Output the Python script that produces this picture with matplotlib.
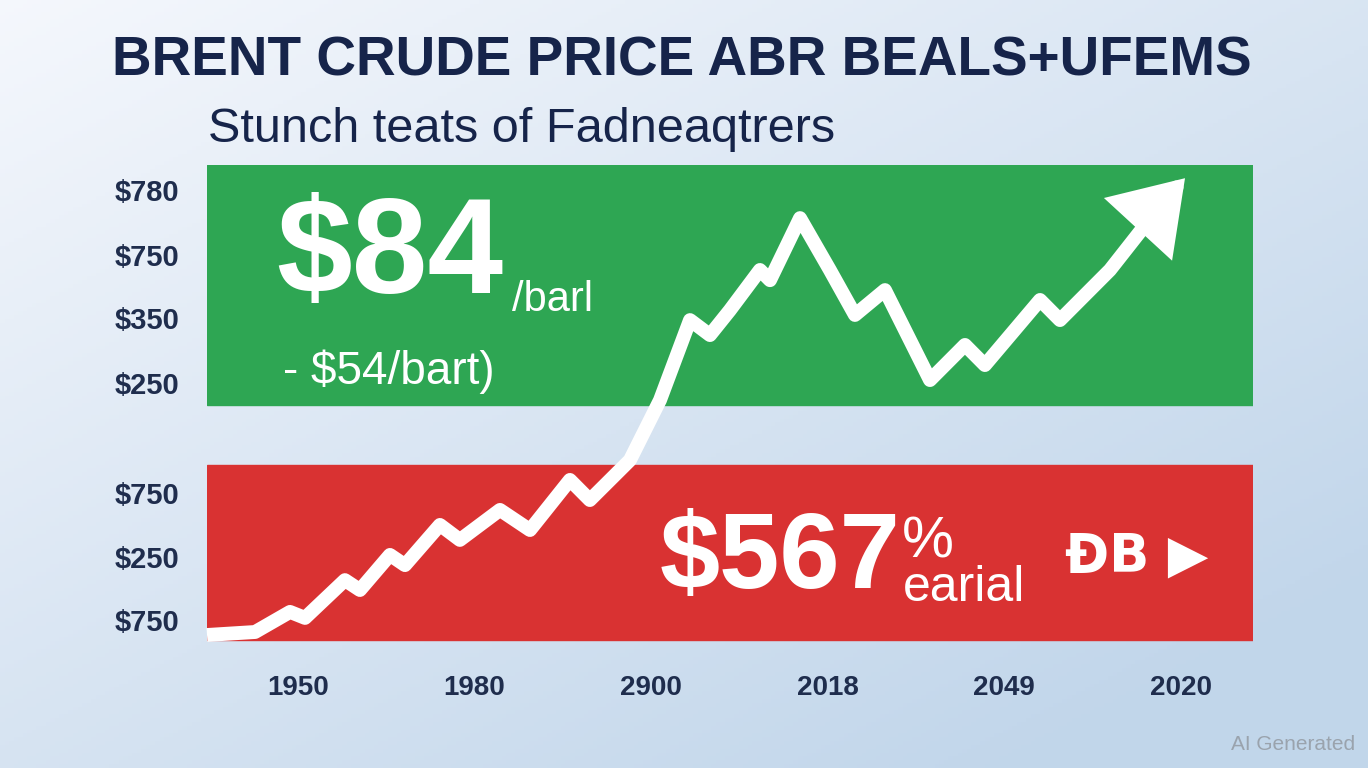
import numpy as np
import matplotlib
matplotlib.use("Agg")
import matplotlib.pyplot as plt
from matplotlib.patches import Rectangle

# ---- data ----
title = "BRENT CRUDE PRICE ABR BEALS+UFEMS"
subtitle = "Stunch teats of Fadneaqtrers"
x_ticklabels = ["1950", "1980", "2900", "2018", "2049", "2020"]
y_tickvals = [153.3, 131.7, 110.7, 89.0, 52.3, 31.0, 10.0]
y_ticklabels = ["$780", "$750", "$350", "$250", "$750", "$250", "$750"]
line_x = [-0.515, -0.243, -0.045, 0.04, 0.266, 0.351, 0.521, 0.606, 0.804, 0.917,
          1.144, 1.314, 1.54, 1.653, 1.88, 2.05, 2.22, 2.333, 2.446, 2.616, 2.673,
          2.843, 3.012, 3.154, 3.324, 3.579, 3.777, 3.89, 4.202, 4.315, 4.598, 4.909]
line_y = [5, 6, 12.7, 10.7, 23.3, 20, 31.7, 28.3, 41.7, 36.7, 46.7, 40, 56.7, 50,
          63.3, 83.3, 110, 105, 113.3, 126.7, 123.3, 144, 126.7, 111.7, 120, 90,
          101.7, 95, 116.7, 110, 126.7, 150]
arrow_tip = (5.023, 157.3)
green_band = (81.7, 161.7)
red_band = (3.3, 61.7)

W, H = 1368, 768
fig = plt.figure(figsize=(W/100, H/100), dpi=100)

# background gradient
bg = fig.add_axes([0, 0, 1, 1])
xx, yy = np.meshgrid(np.linspace(0, 1, 300), np.linspace(0, 1, 200))
t = np.clip(0.55*xx + 0.6*yy, 0, 1)
c0 = np.array([0.96, 0.97, 0.99]); c1 = np.array([0.76, 0.84, 0.92])
img = c0[None, None, :]*(1-t[..., None]) + c1[None, None, :]*t[..., None]
bg.imshow(img, aspect="auto", extent=[0, 1, 0, 1])
bg.axis("off")

font = "Liberation Sans"
ax = fig.add_axes([207/W, (768-650)/H, (1253-207)/W, (650-165)/H])
ax.set_xlim(-0.515, 5.408)
ax.set_ylim(0, 161.7)
ax.patch.set_alpha(0)
for s in ax.spines.values():
    s.set_visible(False)

ax.add_patch(Rectangle((-0.515, green_band[0]), 5.923, green_band[1]-green_band[0],
                       color="#2ea653", zorder=1))
ax.add_patch(Rectangle((-0.515, red_band[0]), 5.923, red_band[1]-red_band[0],
                       color="#d93232", zorder=1))

ax.plot(line_x, line_y, color="white", lw=10, solid_joinstyle="round",
        solid_capstyle="butt", zorder=3, clip_on=False)
ax.annotate("", xy=arrow_tip, xytext=(line_x[-1], line_y[-1]),
            arrowprops=dict(arrowstyle="-|>,head_length=0.9,head_width=0.6",
                            color="white", lw=10, shrinkA=0, shrinkB=0,
                            mutation_scale=40, joinstyle="miter"),
            zorder=4, annotation_clip=False)

ax.set_xticks(range(6))
ax.set_xticklabels(x_ticklabels, fontsize=20, fontweight="bold", color="#1f2d4d",
                   fontfamily=font)
ax.set_yticks(y_tickvals)
ax.set_yticklabels(y_ticklabels, fontsize=21, fontweight="bold", color="#1f2d4d",
                   fontfamily=font)
ax.tick_params(length=0)
ax.tick_params(axis="x", pad=18)
ax.tick_params(axis="y", pad=20)

fig.text(682/W, 1-62/H, title, ha="center", va="center", fontsize=39.5,
         fontweight="bold", color="#16244a", fontfamily=font)
fig.text(208/W, 1-130/H, subtitle, ha="left", va="center", fontsize=35,
         color="#16244a", fontfamily=font)

fig.text(276/W, 1-258/H, "$84", ha="left", va="center", fontsize=98,
         fontweight="bold", color="white", fontfamily=font)
fig.text(512/W, 1-300/H, "/barl", ha="left", va="center", fontsize=30,
         color="white", fontfamily=font)
fig.text(283/W, 1-372/H, "- $54/bart)", ha="left", va="center", fontsize=33,
         color="white", fontfamily=font)
fig.text(660/W, 1-560/H, "$567", ha="left", va="center", fontsize=78,
         fontweight="bold", color="white", fontfamily=font)
fig.text(902/W, 1-543/H, "%", ha="left", va="center", fontsize=42,
         color="white", fontfamily=font)
fig.text(903/W, 1-588/H, "earial", ha="left", va="center", fontsize=36,
         color="white", fontfamily=font)
fig.text(1065/W, 1-556/H, "ÐB ▶", ha="left", va="center", fontsize=38,
         fontweight="bold", color="white", fontfamily="DejaVu Sans")
fig.text(1355/W, 1-745/H, "AI Generated", ha="right", va="center", fontsize=15,
         color="#9aa3ad", fontfamily=font)

fig.savefig("out.png", dpi=100)
